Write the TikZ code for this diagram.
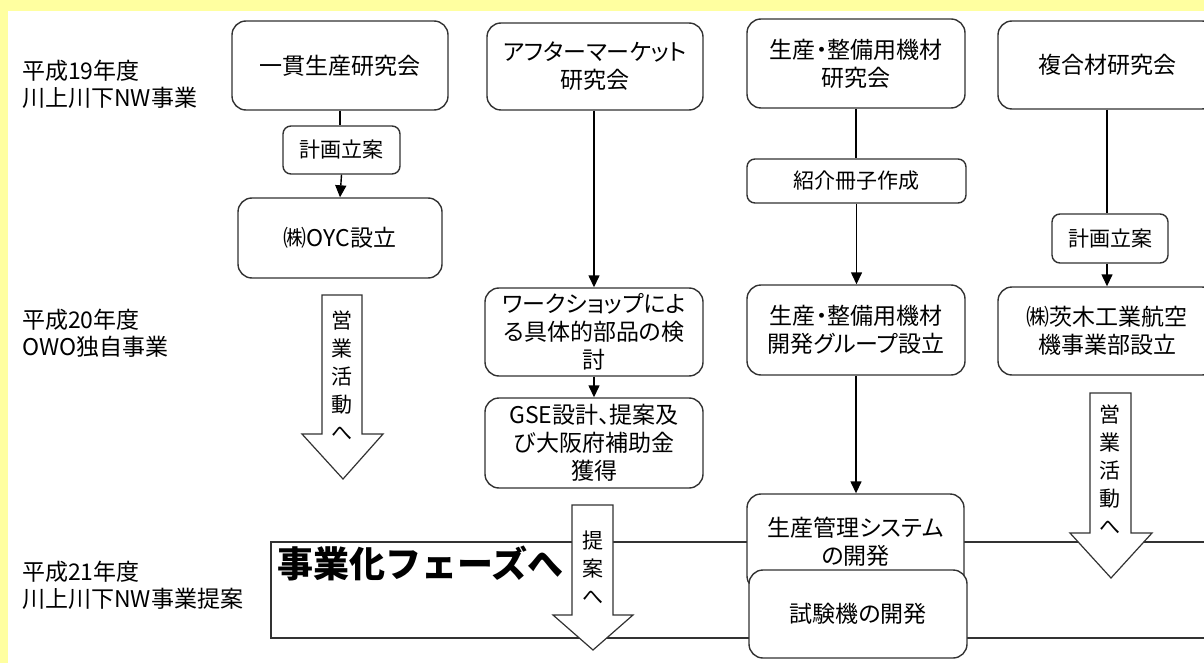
\documentclass[tikz,border=0pt]{standalone}
\usepackage{fontspec}
\setmainfont{Noto Sans CJK JP}[RawFeature=+palt]
\newfontfamily\labf{Noto Sans CJK JP}
\usetikzlibrary{arrows.meta}
\definecolor{bgyellow}{RGB}{255,255,160}
\definecolor{edge}{RGB}{50,50,50}
\begin{document}
\begin{tikzpicture}[x=1pt,y=-1pt,
  box/.style={draw=edge,line width=1.4pt,fill=white,rounded corners=14pt,align=center,inner sep=0pt,font=\fontsize{23}{28}\selectfont},
  sbox/.style={box,rounded corners=8pt,font=\fontsize{21}{26}\selectfont},
  conn/.style={draw=black,line width=1.4pt},
  arr/.style={conn,-{Triangle[width=11pt,length=12pt]}},
  lab/.style={anchor=west,align=left,inner sep=0pt,font=\fontsize{23}{27}\selectfont\labf},
  blk/.style={draw=edge,line width=1.2pt,fill=white},
  vtxt/.style={align=center,inner sep=0pt,font=\fontsize{21}{28}\selectfont}]
\path[use as bounding box] (0,0) rectangle (1204,663);
\clip (0,0) rectangle (1204,663);
\fill[bgyellow] (0,0) rectangle (1204,663);
\fill[white] (8,11) rectangle (1204,663);

% left labels
\node[lab] (l1) at (22,84.5) {平成19年度\\川上川下NW事業};
\node[lab] (l2) at (22,333) {平成20年度\\OWO独自事業};
\node[lab] (l3) at (22,585) {平成21年度\\川上川下NW事業提案};

% phase frame
\node[draw=edge,line width=1.6pt,anchor=north west,minimum width=960pt,minimum height=96pt,inner sep=0pt] (phase) at (270,541) {};
\node[anchor=west,inner sep=0pt,font=\fontsize{36}{40}\selectfont\labf\bfseries] (phasetxt) at (277,563) {事業化フェーズへ};

% top boxes
\node[box,minimum width=216pt,minimum height=89pt] (b1) at (340,65.5) {一貫生産研究会};
\node[box,minimum width=216pt,minimum height=87pt] (b2) at (595,66.5) {アフターマーケット\\研究会};
\node[box,minimum width=218pt,minimum height=89pt] (b3) at (856,63.5) {生産・整備用機材\\研究会};
\node[box,minimum width=218pt,minimum height=88pt] (b4) at (1107,65) {複合材研究会};

% column 1
\node[sbox,minimum width=117pt,minimum height=48pt] (k1) at (341.5,150) {計画立案};
\node[box,minimum width=204pt,minimum height=80pt] (oyc) at (340,238) {㈱OYC設立};
\draw[conn] (b1.south) -- (b1.south |- k1.north);
\draw[arr] (k1.south) -- (oyc.north);

% column 2
\node[box,minimum width=218pt,minimum height=88pt] (ws) at (594,332) {ワークショップによ\\る具体的部品の検\\討};
\node[box,minimum width=218pt,minimum height=90pt] (gse) at (594,443) {GSE設計、提案及\\び大阪府補助金\\獲得};
\draw[arr] (b2.south -| ws.north) -- (ws.north);
\draw[arr] (ws.south) -- (gse.north);

% column 3
\node[sbox,minimum width=219pt,minimum height=44pt] (intro) at (856.5,181) {紹介冊子作成};
\node[box,minimum width=218pt,minimum height=90pt] (grp) at (856,330) {生産・整備用機材\\開発グループ設立};
\node[box,minimum width=217pt,minimum height=96pt] (sys) at (855.5,542) {生産管理システム\\の開発};
\node[box,minimum width=218pt,minimum height=88pt] (test) at (858,614) {試験機の開発};
\draw[conn] (b3.south) -- (b3.south |- intro.north);
\draw[arr] (intro.south) -- (intro.south |- grp.north);
\draw[arr] (grp.south) -- (grp.south |- sys.north);

% column 4
\node[sbox,minimum width=116pt,minimum height=49pt] (k2) at (1110,238.5) {計画立案};
\node[box,minimum width=218pt,minimum height=88pt] (iba) at (1107,331) {㈱茨木工業航空\\機事業部設立};
\draw[conn] (b4.south) -- (b4.south |- k2.north);
\draw[arr] (k2.south -| b4.south) -- (b4.south |- iba.north);

% block arrows
\draw[blk] (322,295) -- (362,295) -- (362,434) -- (383,434) -- (343,479) -- (302,434) -- (322,434) -- cycle;
\node[vtxt] (tA) at (342,376) {営\\業\\活\\動\\へ};
\draw[blk] (1090,393) -- (1131,393) -- (1131,533) -- (1152,533) -- (1111,578) -- (1070,533) -- (1090,533) -- cycle;
\node[vtxt] (tB) at (1110,470) {営\\業\\活\\動\\へ};
\draw[blk] (572,505) -- (613,505) -- (613,615) -- (633,615) -- (593,650) -- (553,615) -- (572,615) -- cycle;
\node[vtxt] (tC) at (593,568) {提\\案\\へ};
\end{tikzpicture}
\end{document}
